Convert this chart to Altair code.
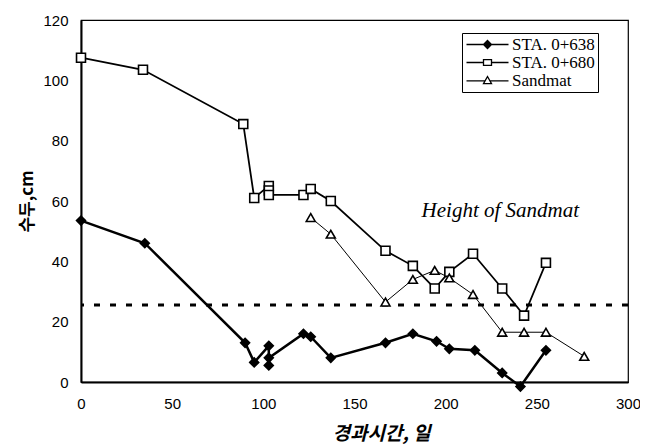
import altair as alt
import pandas as pd

series = ["STA. 0+638", "STA. 0+680", "Sandmat"]

x638 = [0, 35, 90, 95, 103, 103, 103, 122, 126, 137, 167, 182, 195, 202, 216, 231, 241, 255]
y638 = [53.5, 46, 13, 6.5, 12, 5.5, 8, 16, 15, 8, 13, 16, 13.5, 11, 10.5, 3, -1.5, 10.5]

x680 = [0, 34, 89, 95, 103, 103, 103, 122, 126, 137, 167, 182, 194, 202, 215, 231, 243, 255]
y680 = [107.5, 103.5, 85.5, 61, 65, 63.5, 62, 62, 64, 60, 43.5, 38.5, 31, 36.5, 42.5, 31, 22, 39.5]

xsm = [126, 137, 167, 182, 194, 202, 215, 231, 243, 255, 276]
ysm = [54.5, 49, 26.5, 34, 37, 34.5, 29, 16.5, 16.5, 16.5, 8.5]

sandmat_height = 25.5
x_ticks = [0, 50, 100, 150, 200, 250, 300]
y_ticks = [0, 20, 40, 60, 80, 100, 120]

SERIF = "Liberation Serif, Times New Roman, Times, serif"

rows = []
for name, xs, ys in [(series[0], x638, y638), (series[1], x680, y680), (series[2], xsm, ysm)]:
    for i, (a, b) in enumerate(zip(xs, ys)):
        rows.append({"series": name, "t": a, "h": b, "i": i})
df = pd.DataFrame(rows)

xenc = alt.X("t:Q", scale=alt.Scale(domain=[0, 300], nice=False),
             axis=alt.Axis(values=x_ticks, title="경과시간, 일", ticks=False, labelPadding=14,
                           labelFlush=False,
                           labelFont="Liberation Sans", labelFontSize=15, labelColor="black",
                           titleFont="Noto Sans CJK KR", titleFontSize=19, titleFontStyle="italic",
                           titleFontWeight="bold", titleColor="black",
                           titleX=300, titleY=51, titleAlign="center", titleBaseline="middle",
                           domainColor="black", domainWidth=2, grid=False))
yenc = alt.Y("h:Q", scale=alt.Scale(domain=[0, 120], nice=False),
             axis=alt.Axis(values=y_ticks, title="수두,cm", ticks=False, labelPadding=13,
                           labelFlush=False,
                           labelFont="Liberation Sans", labelFontSize=15, labelColor="black",
                           titleFont="Noto Sans CJK KR", titleFontSize=17, titleFontWeight="bold",
                           titleColor="black", titleAngle=270,
                           titleX=-54, titleY=181, titleAlign="center", titleBaseline="middle",
                           domainColor="black", domainWidth=2, grid=False))

base = alt.Chart(df)

lines = base.mark_line(color="black").encode(
    x=xenc, y=yenc, detail="series:N", order="i:Q",
    strokeWidth=alt.StrokeWidth("series:N", scale=alt.Scale(domain=series, range=[2.5, 1, 1]), legend=None),
)

points = base.mark_point(filled=True, stroke="black", strokeWidth=1.6, opacity=1, fillOpacity=1).encode(
    x="t:Q", y="h:Q",
    shape=alt.Shape("series:N", scale=alt.Scale(domain=series, range=["diamond", "square", "triangle-up"]), legend=None),
    fill=alt.Fill("series:N", scale=alt.Scale(domain=series, range=["black", "white", "white"]), legend=None),
    size=alt.Size("series:N", scale=alt.Scale(domain=series, range=[80, 80, 90]), legend=None),
)

# legend glyphs: line + marker (the diamond is "filled" by concentric strokes)
legend_paths = [
    "M-5.25,0L5.25,0M0,-1L1,0L0,1L-1,0ZM0,-0.6L0.6,0L0,0.6L-0.6,0ZM0,-0.25L0.25,0L0,0.25L-0.25,0ZM0,-1L0,1",
    "M-5.25,0L-1,0M1,0L5.25,0M-1,-0.7L1,-0.7L1,0.7L-1,0.7Z",
    "M-5.25,0.1L-0.6,0.1M0.6,0.1L5.25,0.1M0,-1L1,0.8L-1,0.8Z",
]

legend_layer = base.transform_filter("false").mark_point(filled=False, color="black", strokeWidth=1.3, opacity=1).encode(
    x="t:Q", y="h:Q",
    shape=alt.Shape("series:N", scale=alt.Scale(domain=series, range=legend_paths),
                    legend=alt.Legend(title=None, orient="none", legendX=381, legendY=13,
                                      symbolSize=64, symbolOffset=14, labelOffset=16,
                                      labelFont=SERIF, labelFontSize=17, labelColor="black",
                                      padding=3, rowPadding=0, strokeColor="black", fillColor="white",
                                      symbolStrokeWidth=1.3, symbolStrokeColor="black",
                                      symbolOpacity=1)),
)

rule_df = pd.DataFrame({"h": [sandmat_height]})
rule = alt.Chart(rule_df).mark_rule(color="black", strokeWidth=3, strokeDash=[6, 10], strokeDashOffset=0).encode(
    y="h:Q"
)

ann_df = pd.DataFrame({"t": [230], "h": [54.7], "label": ["Height of Sandmat"]})
ann = alt.Chart(ann_df).mark_text(font=SERIF, fontSize=21, fontStyle="italic",
                                  color="black", align="center", baseline="alphabetic").encode(
    x="t:Q", y="h:Q", text="label:N"
)

chart = alt.layer(rule, lines, points, legend_layer, ann).resolve_scale(
    shape="independent"
).properties(
    width=547, height=362,
    autosize=alt.AutoSizeParams(type="none"),
    padding={"left": 73, "top": 12, "right": 12, "bottom": 62},
    background="white",
).configure_view(stroke="black", strokeWidth=1.2)

chart.save("out.html", embed_options={"renderer": "svg", "actions": False})
